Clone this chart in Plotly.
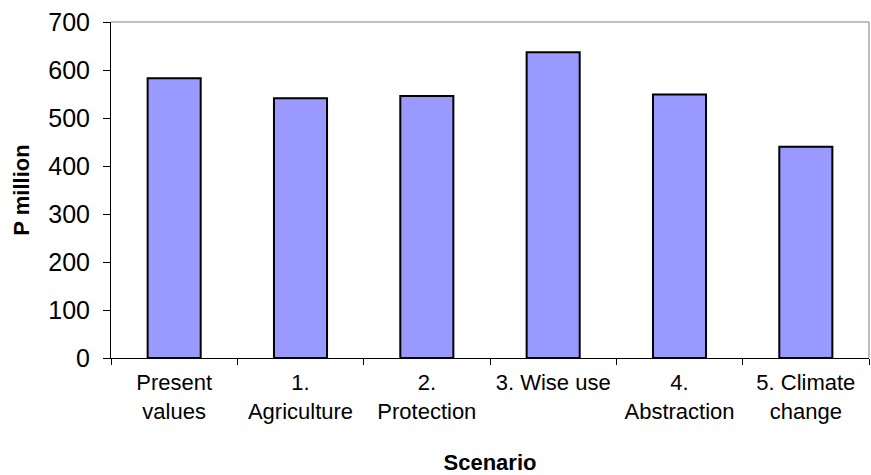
import plotly.graph_objects as go

# Scenario values (P million)
scenarios = [
    "Present<br>values",
    "1.<br>Agriculture",
    "2.<br>Protection",
    "3. Wise use",
    "4.<br>Abstraction",
    "5. Climate<br>change",
]
values = [583, 541, 546, 637, 549, 440]

y_ticks = [0, 100, 200, 300, 400, 500, 600, 700]

FONT = "Liberation Sans, Arial, sans-serif"

fig = go.Figure(
    go.Bar(
        x=scenarios,
        y=values,
        marker=dict(color="#9999FF", line=dict(color="#000000", width=2)),
        width=0.42,
    )
)

fig.update_layout(
    width=871,
    height=475,
    margin=dict(l=111, r=2, t=22, b=117),
    paper_bgcolor="white",
    plot_bgcolor="white",
    font=dict(family=FONT, size=21, color="#000000"),
    showlegend=False,
    xaxis=dict(
        type="category",
        tickson="boundaries",
        ticks="outside",
        ticklen=6,
        tickcolor="#000000",
        tickwidth=1,
        tickfont=dict(size=22),
        ticklabelstandoff=5,
        showline=True,
        linecolor="#000000",
        linewidth=1,
        showgrid=False,
        automargin=False,
        title=dict(text="<b>Scenario</b>", standoff=33, font=dict(size=22)),
    ),
    yaxis=dict(
        range=[0, 700],
        tickvals=y_ticks,
        ticks="outside",
        ticklen=7,
        tickcolor="#000000",
        tickwidth=1,
        tickfont=dict(size=25),
        ticklabelstandoff=8,
        showline=True,
        linecolor="#000000",
        linewidth=1,
        showgrid=False,
        zeroline=False,
        automargin=False,
        title=dict(text="<b>P million</b>", standoff=12, font=dict(size=22)),
    ),
    shapes=[
        # plot-area border on the top and right sides
        dict(type="line", xref="paper", yref="paper", x0=0, x1=1, y0=1, y1=1,
             line=dict(color="#808080", width=1)),
        dict(type="line", xref="paper", yref="paper", x0=1, x1=1, y0=0, y1=1,
             line=dict(color="#808080", width=1)),
    ],
)

fig.write_html("out.html")
